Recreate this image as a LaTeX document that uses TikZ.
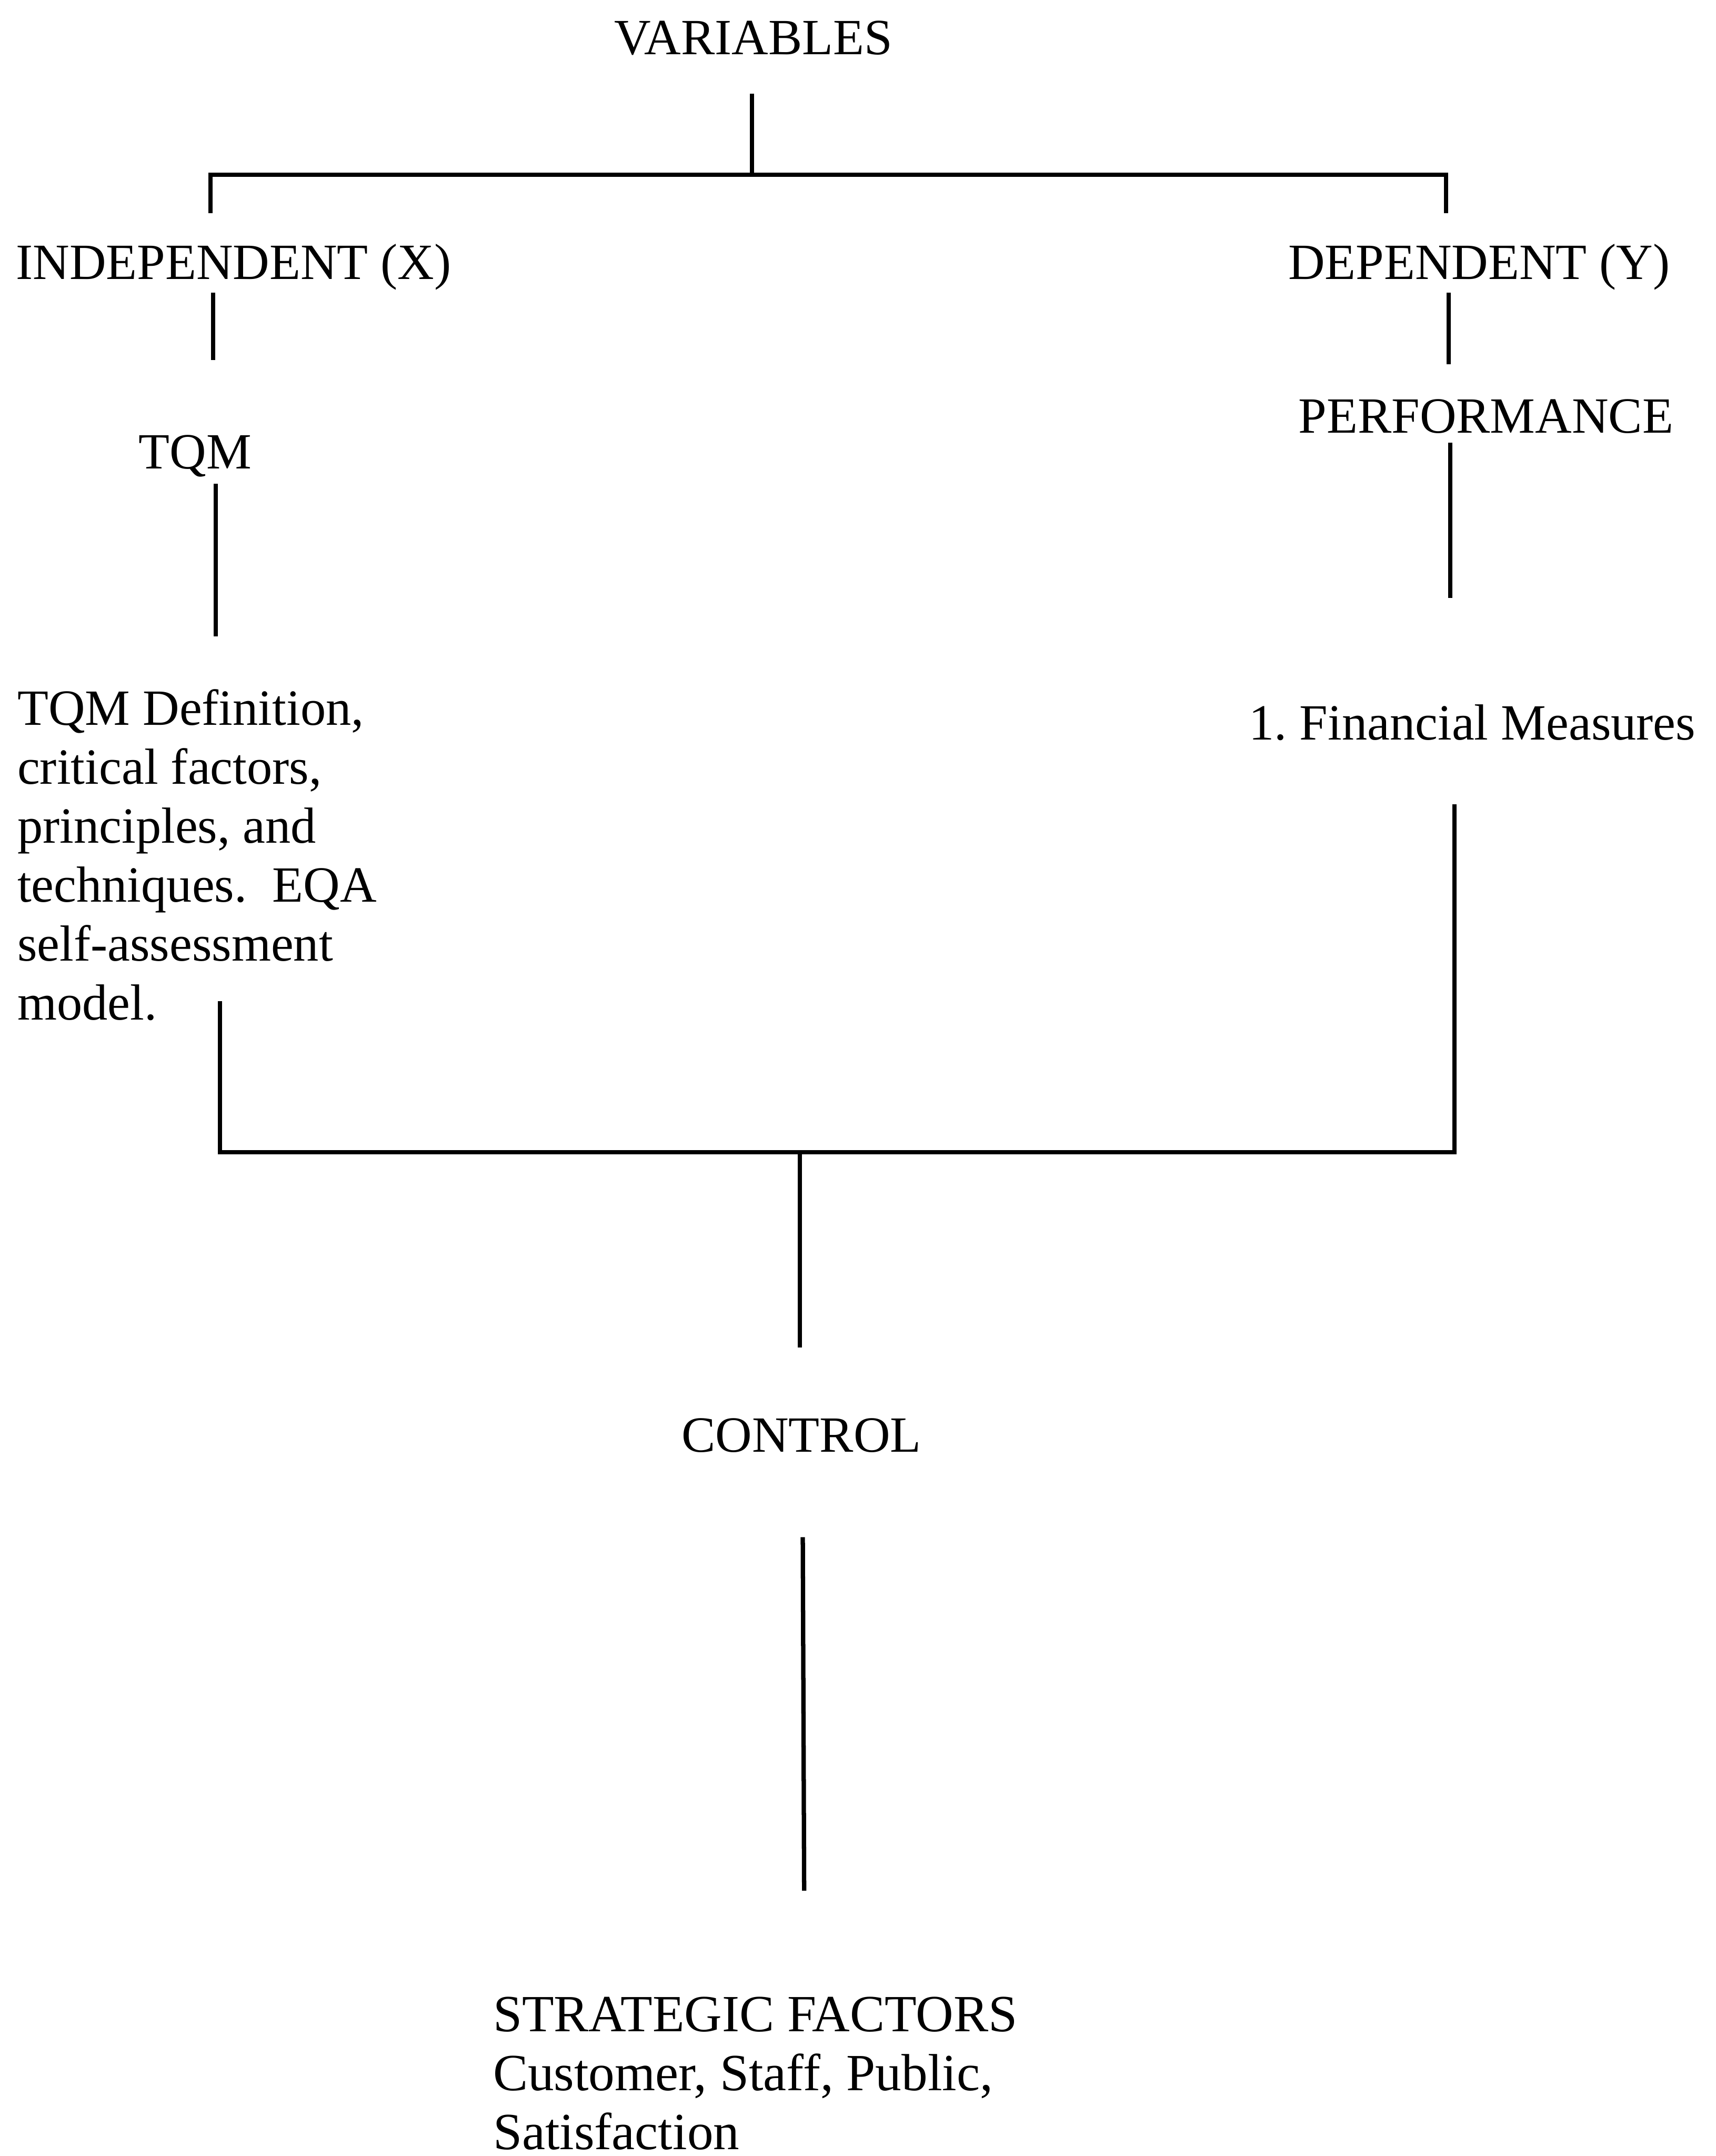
\documentclass[tikz,border=0pt]{standalone}
\usepackage{fontspec}
\setmainfont{Liberation Serif}
\begin{document}
\begin{tikzpicture}
\tikzstyle{head} = [font=\fontsize{10.5}{12.2}\selectfont,inner sep=0];
\tikzstyle{body} = [font=\fontsize{10.5}{12.2}\selectfont,inner sep=0,align=left];
\tikzstyle{ln} = [line width=0.9pt];
\useasboundingbox (0,0) rectangle (12.48,15.68);
\node [head,anchor=base] (var) at (5.48,15.285) {VARIABLES};
\node [head,anchor=base] (indep) at (1.70,13.65) {INDEPENDENT (X)};
\node [head,anchor=base] (dep) at (10.76,13.65) {DEPENDENT (Y)};
\node [head,anchor=base] (tqm) at (1.42,12.27) {TQM};
\node [head,anchor=base] (perf) at (10.81,12.53) {PERFORMANCE};
\node [body,anchor=north west] (tqmdef) at (0.12,10.675) {TQM Definition,\\critical factors,\\principles, and\\techniques.\ \ EQA\\self-assessment\\model.};
\node [head,anchor=base] (finmeas) at (10.71,10.30) {1.\ Financial Measures};
\node [head,anchor=base] (control) at (5.83,5.12) {CONTROL};
\node [body,anchor=north west,font=\fontsize{10.8}{12.2}\selectfont] (strat) at (3.58,1.165) {STRATEGIC FACTORS\\Customer, Staff, Public,\\Satisfaction};

% top bracket
\coordinate (v1) at (5.47,15.00);
\coordinate (v2) at (5.47,14.41);
\coordinate (t1) at (1.53,14.13);
\coordinate (t2) at (1.53,14.41);
\coordinate (t3) at (10.52,14.41);
\coordinate (t4) at (10.52,14.13);
\draw [ln] (v1) -- (v2);
\draw [ln] (t1) -- (t2) -- (t3) -- (t4);

% left column
\coordinate (x1) at (1.55,13.55);
\coordinate (x2) at (1.55,13.06);
\coordinate (x3) at (1.57,12.16);
\coordinate (x4) at (1.57,11.05);
\draw [ln] (x1) -- (x2);
\draw [ln] (x3) -- (x4);

% right column
\coordinate (y1) at (10.54,13.55);
\coordinate (y2) at (10.54,13.03);
\coordinate (y3) at (10.55,12.46);
\coordinate (y4) at (10.55,11.33);
\draw [ln] (y1) -- (y2);
\draw [ln] (y3) -- (y4);

% bottom bracket
\coordinate (b1) at (1.60,8.40);
\coordinate (b2) at (1.60,7.30);
\coordinate (b3) at (10.58,7.30);
\coordinate (b4) at (10.58,9.83);
\coordinate (m1) at (5.82,7.30);
\coordinate (m2) at (5.82,5.88);
\draw [ln] (b1) -- (b2) -- (b3) -- (b4);
\draw [ln] (m1) -- (m2);

% control to strategic factors
\coordinate (c1) at (5.84,4.50);
\coordinate (c2) at (5.85,1.93);
\draw [ln] (c1) -- (c2);
\end{tikzpicture}
\end{document}
